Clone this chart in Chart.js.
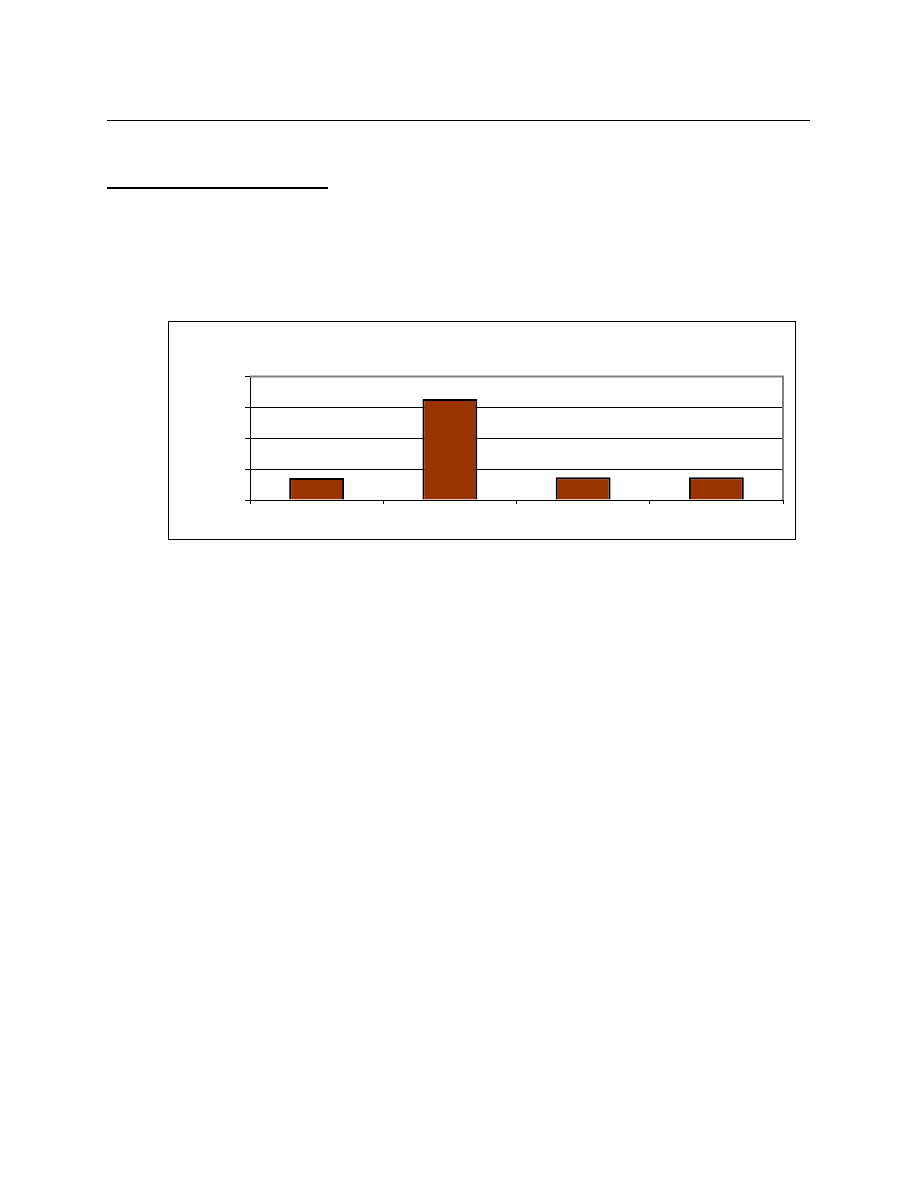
<!DOCTYPE html>
<html>
<head>
<meta charset="utf-8">
<script src="https://cdn.jsdelivr.net/npm/chart.js@4/dist/chart.umd.min.js"></script>
<style>
  html, body { margin: 0; padding: 0; background: #fff; }
  body { width: 918px; height: 1188px; position: relative; overflow: hidden; font-family: "Liberation Serif", serif; }
  #rule { position: absolute; left: 107px; top: 120px; width: 703px; height: 1px; background: #000; }
  #underline { position: absolute; left: 107px; top: 187px; width: 221px; height: 2px; background: #000; }
  #box { position: absolute; left: 168px; top: 321px; width: 626px; height: 217px; border: 1px solid #000; }
  #box canvas { display: block; }
</style>
</head>
<body>
<div id="rule"></div>
<div id="underline"></div>
<div id="box"><canvas id="c" width="626" height="217"></canvas></div>
<script>
const categories = ["", "", "", ""];
const values = [7.1, 32.7, 7.4, 7.4];
const yTicks = [0, 10, 20, 30, 40];

const plotFrame = {
  id: 'plotFrame',
  afterDraw(chart) {
    const a = chart.chartArea, ctx = chart.ctx;
    ctx.save();
    ctx.strokeStyle = '#808080';
    ctx.lineWidth = 2;
    ctx.beginPath();
    ctx.moveTo(a.left, a.top);
    ctx.lineTo(a.right, a.top);
    ctx.lineTo(a.right, a.bottom);
    ctx.stroke();
    ctx.restore();
  }
};

new Chart(document.getElementById('c'), {
  type: 'bar',
  data: {
    labels: categories,
    datasets: [{
      data: values,
      backgroundColor: '#993300',
      borderColor: '#000000',
      borderWidth: 2,
      barPercentage: 0.412,
      categoryPercentage: 1.0
    }]
  },
  options: {
    responsive: false,
    animation: false,
    events: [],
    layout: { padding: { left: 76, right: 12, top: 54.5, bottom: 35 } },
    plugins: { legend: { display: false }, tooltip: { enabled: false }, title: { display: false } },
    scales: {
      x: {
        grid: { display: true, drawOnChartArea: false, drawTicks: true, tickLength: 4, color: '#000', offset: true },
        border: { display: true, color: '#000', width: 1 },
        ticks: { display: false }
      },
      y: {
        min: yTicks[0],
        max: yTicks[yTicks.length - 1],
        afterBuildTicks(scale) { scale.ticks = yTicks.map(v => ({ value: v })); },
        grid: {
          drawTicks: true,
          tickLength: 5,
          color: (c) => (c.tick && c.tick.value === yTicks[yTicks.length - 1]) ? '#808080' : '#000',
          tickColor: '#000',
          lineWidth: 1
        },
        border: { display: true, color: '#000', width: 1 },
        ticks: { display: false }
      }
    }
  },
  plugins: [plotFrame]
});
</script>
</body>
</html>
